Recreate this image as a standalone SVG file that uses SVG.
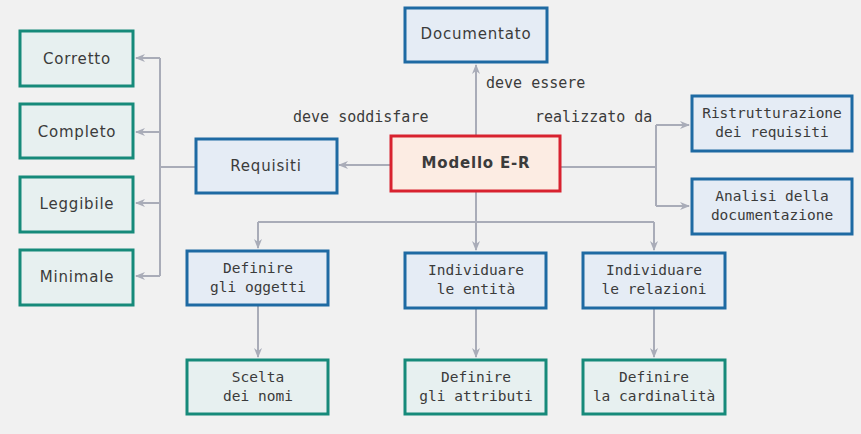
<svg xmlns="http://www.w3.org/2000/svg" width="861" height="434" viewBox="0 0 861 434">
<style>
.bg{fill:#f1f1f1}
.blue{fill:#e5ecf5;stroke:#1e6aa3;stroke-width:3}
.teal{fill:#e7f0f0;stroke:#168a7a;stroke-width:3}
.red{fill:#fcece3;stroke:#d8222f;stroke-width:3}
.t{font-family:"DejaVu Sans",sans-serif;font-size:15px;fill:#3b3b3b;text-anchor:middle;letter-spacing:0.8px}
.m{font-family:"DejaVu Sans Mono",monospace;font-size:14.5px;fill:#3b3b3b;text-anchor:middle}
.lbl{font-family:"DejaVu Sans Mono",monospace;font-size:15px;fill:#3b3b3b}
.b{font-weight:bold}
.c{fill:none;stroke:#a9acb8;stroke-width:2}
</style>
<defs>
<marker id="ah" viewBox="0 0 10 10" refX="9" refY="5" markerWidth="10" markerHeight="10" markerUnits="userSpaceOnUse" orient="auto">
<path d="M0,1 L10,5 L0,9 L3,5 Z" fill="#a9acb8"/>
</marker>
</defs>
<rect class="bg" x="0" y="0" width="861" height="434"/>
<g id="connectors">
<path class="c" d="M390,165 H339" marker-end="url(#ah)"/>
<path class="c" d="M195,167 H160"/>
<path class="c" d="M160,58 V276"/>
<path class="c" d="M160,58 H136" marker-end="url(#ah)"/>
<path class="c" d="M160,132 H136" marker-end="url(#ah)"/>
<path class="c" d="M160,203 H136" marker-end="url(#ah)"/>
<path class="c" d="M160,276 H136" marker-end="url(#ah)"/>
<path class="c" d="M476,135 V65" marker-end="url(#ah)"/>
<path class="c" d="M560,167 H656"/>
<path class="c" d="M656,125 V206"/>
<path class="c" d="M656,125 H689" marker-end="url(#ah)"/>
<path class="c" d="M656,206 H689" marker-end="url(#ah)"/>
<path class="c" d="M476,191 V250" marker-end="url(#ah)"/>
<path class="c" d="M258,222 H654"/>
<path class="c" d="M258,222 V248" marker-end="url(#ah)"/>
<path class="c" d="M654,222 V250" marker-end="url(#ah)"/>
<path class="c" d="M258,306 V357" marker-end="url(#ah)"/>
<path class="c" d="M476,309 V357" marker-end="url(#ah)"/>
<path class="c" d="M654,309 V357" marker-end="url(#ah)"/>
<text class="lbl" x="486" y="88">deve essere</text>
<text class="lbl" x="293" y="122">deve soddisfare</text>
<text class="lbl" x="535" y="122">realizzato da</text>
</g>
<g id="corretto"><rect class="teal" x="20" y="31" width="113" height="55"/><text class="t" x="77" y="64">Corretto</text></g>
<g id="completo"><rect class="teal" x="20" y="104" width="113" height="54"/><text class="t" x="77" y="137">Completo</text></g>
<g id="leggibile"><rect class="teal" x="20" y="177" width="113" height="55"/><text class="t" x="77" y="209">Leggibile</text></g>
<g id="minimale"><rect class="teal" x="20" y="250" width="113" height="55"/><text class="t" x="77" y="282">Minimale</text></g>
<g id="requisiti"><rect class="blue" x="196" y="139" width="141" height="54"/><text class="t" x="266" y="171">Requisiti</text></g>
<g id="modello"><rect class="red" x="391" y="136" width="169" height="55"/><text class="t b" x="476" y="168">Modello E-R</text></g>
<g id="documentato"><rect class="blue" x="405" y="8" width="142" height="54"/><text class="t" x="476" y="39">Documentato</text></g>
<g id="ristrutturazione"><rect class="blue" x="692" y="96" width="160" height="55"/><text class="m" x="772" y="118">Ristrutturazione</text><text class="m" x="772" y="137">dei requisiti</text></g>
<g id="analisi"><rect class="blue" x="692" y="179" width="160" height="55"/><text class="m" x="772" y="201">Analisi della</text><text class="m" x="772" y="220">documentazione</text></g>
<g id="definire-oggetti"><rect class="blue" x="187" y="251" width="141" height="54"/><text class="m" x="258" y="273">Definire</text><text class="m" x="258" y="292">gli oggetti</text></g>
<g id="individuare-entita"><rect class="blue" x="405" y="253" width="141" height="55"/><text class="m" x="476" y="275">Individuare</text><text class="m" x="476" y="294">le entità</text></g>
<g id="individuare-relazioni"><rect class="blue" x="583" y="253" width="142" height="55"/><text class="m" x="654" y="275">Individuare</text><text class="m" x="654" y="294">le relazioni</text></g>
<g id="scelta-nomi"><rect class="teal" x="187" y="360" width="141" height="54"/><text class="m" x="258" y="382">Scelta</text><text class="m" x="258" y="401">dei nomi</text></g>
<g id="definire-attributi"><rect class="teal" x="405" y="360" width="141" height="54"/><text class="m" x="476" y="382">Definire</text><text class="m" x="476" y="401">gli attributi</text></g>
<g id="definire-cardinalita"><rect class="teal" x="583" y="360" width="142" height="54"/><text class="m" x="654" y="382">Definire</text><text class="m" x="654" y="401">la cardinalità</text></g>
</svg>
